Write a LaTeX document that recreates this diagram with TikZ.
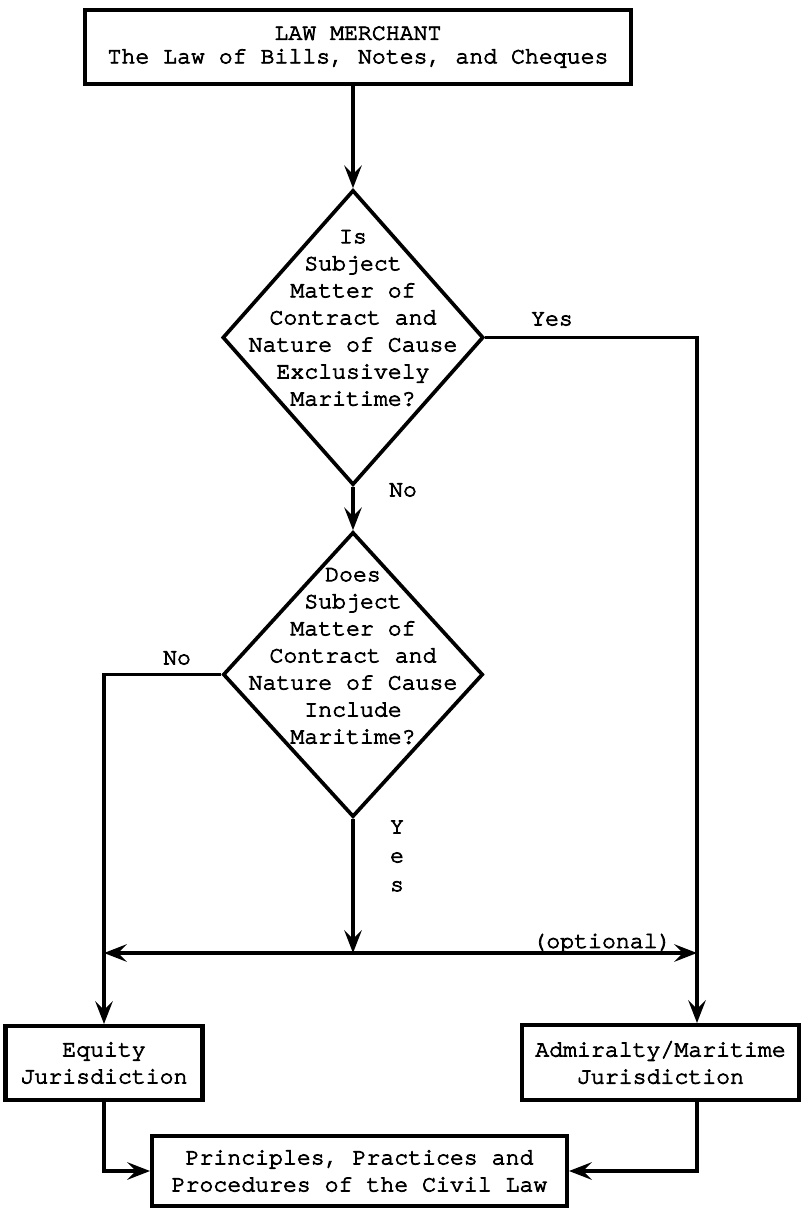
\documentclass[tikz,border=0pt]{standalone}
\usepackage{fontspec}
\newfontfamily\typewriter[FakeBold=3.5]{TeX Gyre Cursor}
\usetikzlibrary{arrows.meta, shapes.geometric}

\begin{document}
\begin{tikzpicture}[x=0.02cm, y=-0.02cm,
  font=\typewriter\fontsize{13.2}{15.4}\selectfont,
  box/.style={draw, line width=2.3pt, align=center, inner sep=0pt},
  decision/.style={draw, diamond, line width=2.1pt, inner sep=0pt},
  lbl/.style={inner sep=0pt},
  arr/.style={-{Stealth[length=13pt, width=10pt, inset=5pt]}, line width=1.9pt}]
  \useasboundingbox (0,0) rectangle (801,1208);
  % boxes and decisions
  \node[box, minimum width=10.92cm, minimum height=1.48cm] (law) at (358,47)
    {LAW MERCHANT\\[-2pt]The Law of Bills, Notes, and Cheques};
  \node[decision, minimum width=5.22cm, minimum height=5.9cm] (q1) at (353,337.5) {};
  \node[lbl, align=center] (q1txt) at (353,318)
    {Is\\Subject\\Matter of\\Contract and\\Nature of Cause\\Exclusively\\Maritime?};
  \node[decision, minimum width=5.2cm, minimum height=5.7cm] (q2) at (353,674.5) {};
  \node[lbl, align=center] (q2txt) at (353,656)
    {Does\\Subject\\Matter of\\Contract and\\Nature of Cause\\Include\\Maritime?};
  \node[box, minimum width=3.94cm, minimum height=1.48cm] (equity) at (104,1063)
    {Equity\\Jurisdiction};
  \node[box, minimum width=5.54cm, minimum height=1.5cm] (admiralty) at (660.5,1062.5)
    {Admiralty/Maritime\\Jurisdiction};
  \node[box, minimum width=8.3cm, minimum height=1.4cm] (civil) at (359.5,1171)
    {Principles, Practices and\\Procedures of the Civil Law};
  % junction points
  \coordinate (split) at (353,953);
  \coordinate (lcol) at (equity.north |- split);
  \coordinate (rcol) at (697,953);
  % connectors
  \draw[arr] (law.south -| q1.north) -- (q1.north);
  \draw[arr] (q1.south) -- (q2.north);
  \draw[arr] (q1.east) -| (rcol |- admiralty.north);
  \draw[arr] (q2.west) -| (equity.north);
  \draw[arr] (q2.south) -- (split);
  \draw[arr] (split) -- (lcol);
  \draw[arr] (split) -- (rcol);
  \draw[arr] (equity.south) |- (civil.west);
  \draw[arr] (rcol |- admiralty.south) |- (civil.east);
  % labels
  \node[lbl] (yes1) at (552,319) {Yes};
  \node[lbl] (no1) at (403,490) {No};
  \node[lbl] (no2) at (177,658) {No};
  \node[lbl, align=center] (yes2) at (397,856) {Y\\[1pt]e\\[1pt]s};
  \node[lbl] (opt) at (602,943) {(optional)};
\end{tikzpicture}
\end{document}
